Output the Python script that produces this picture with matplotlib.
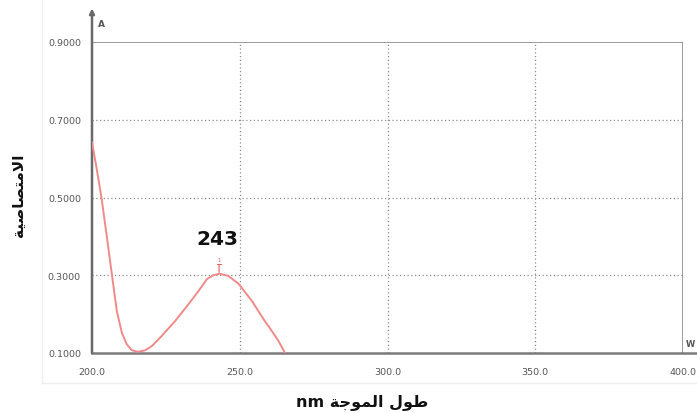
import matplotlib
matplotlib.use("Agg")
import matplotlib.pyplot as plt
from matplotlib.lines import Line2D

# Absorption spectrum (wavelength in nm, absorbance)
wavelength = [200.0, 201.5, 203.2, 204.9, 206.8, 208.4, 210.1, 211.8, 213.5,
              215.5, 218.0, 220.3, 223.6, 228.1, 232.6, 236.0, 238.9, 241.0,
              243.2, 246.2, 249.6, 254.1, 258.5, 260.1, 263.1, 265.3]
absorbance = [0.642, 0.578, 0.500, 0.406, 0.298, 0.208, 0.152, 0.122, 0.107,
              0.103, 0.107, 0.118, 0.144, 0.182, 0.225, 0.259, 0.290, 0.300,
              0.304, 0.298, 0.278, 0.234, 0.182, 0.165, 0.131, 0.100]

peak_nm = 243
peak_abs = 0.304
peak_label = "243"

x_ticks = [200.0, 250.0, 300.0, 350.0, 400.0]
y_ticks = [0.1, 0.3, 0.5, 0.7, 0.9]
x_tick_labels = ["200.0", "250.0", "300.0", "350.0", "400.0"]
y_tick_labels = ["0.1000", "0.3000", "0.5000", "0.7000", "0.9000"]

# Arabic labels written in shaped presentation forms, in visual order
xlabel_text = "nm \uFE94\uFE9F\uFEEE\uFEE4\uFEDF\uFE8D \uFEDD\uFEEE\uFEC3"
ylabel_text = "\uFE94\uFEF4\uFEBB\uFE8E\uFEBC\uFE98\uFEE3\uFEFB\uFE8D"

W, H = 697, 414
fig = plt.figure(figsize=(W / 100, H / 100), dpi=100)
fig.patch.set_facecolor("white")

ax = fig.add_axes([92 / W, 1 - 354 / H, (683 - 92) / W, (354 - 43) / H])
ax.set_xlim(200, 400)
ax.set_ylim(0.1, 0.9)

grid_kw = dict(color="#8c8c8c", lw=0.9, linestyle=(0, (1, 2)), zorder=1)
for xv in x_ticks[1:-1]:
    ax.axvline(xv, **grid_kw)
for yv in y_ticks[1:-1]:
    ax.axhline(yv, **grid_kw)

for side in ["top", "right", "left", "bottom"]:
    ax.spines[side].set_visible(False)

# frame lines
ax.axhline(0.9, color="#8a8a8a", lw=1.2, zorder=2)
ax.axvline(400, color="#8a8a8a", lw=1.2, zorder=2)
ax.add_line(Line2D([0, 1.03], [0, 0], transform=ax.transAxes, color="#7a7a7a",
                   lw=1.8, clip_on=False, zorder=3))
ax.annotate("", xy=(0, 1.108), xytext=(0, 0), xycoords="axes fraction",
            textcoords="axes fraction",
            arrowprops=dict(arrowstyle="-|>", color="#6a6a6a", lw=1.8,
                            mutation_scale=7, shrinkA=0, shrinkB=0))

ax.plot(wavelength, absorbance, color="#f08a8a", lw=1.4, zorder=4,
        solid_joinstyle="round")

ax.annotate("1", xy=(peak_nm, peak_abs), xytext=(0, 12),
            textcoords="offset pixels", ha="center", va="bottom",
            fontsize=3.5, color="#e06060",
            arrowprops=dict(arrowstyle="]-, widthA=0.35, lengthA=0.15",
                            color="#e06060", lw=0.8, shrinkA=0, shrinkB=1))
ax.annotate(peak_label, xy=(peak_nm, peak_abs), xytext=(-2, 35),
            textcoords="offset pixels", ha="center", va="center",
            fontsize=14.5, fontweight="bold", color="#111111")

ax.set_xticks(x_ticks)
ax.set_xticklabels(x_tick_labels)
ax.set_yticks(y_ticks)
ax.set_yticklabels(y_tick_labels)
ax.tick_params(length=0, labelsize=6.8, colors="#555555")
ax.tick_params(axis="x", pad=10)
ax.tick_params(axis="y", pad=8)

ax.text(0.01, 1.06, "A", transform=ax.transAxes, fontsize=6.5,
        fontweight="bold", color="#555555", ha="left", va="center")
ax.text(1.005, 0.015, "W", transform=ax.transAxes, fontsize=6,
        fontweight="bold", color="#555555", ha="left", va="bottom")

fig.text(362 / W, 1 - 402 / H, xlabel_text, fontsize=11.5, fontweight="bold",
         ha="center", va="center", color="#111111")
fig.text(18 / W, 1 - 195 / H, ylabel_text, fontsize=11, fontweight="bold",
         rotation=90, ha="center", va="center", color="#111111")

# faint border of the embedded spectrum panel
fig.add_artist(Line2D([42 / W, 42 / W], [1 - 384 / H, 1.0],
                      transform=fig.transFigure, color="#efefef", lw=1))
fig.add_artist(Line2D([42 / W, 1.0], [1 - 384 / H, 1 - 384 / H],
                      transform=fig.transFigure, color="#efefef", lw=1))

fig.savefig("out.png", dpi=100, facecolor="white")
